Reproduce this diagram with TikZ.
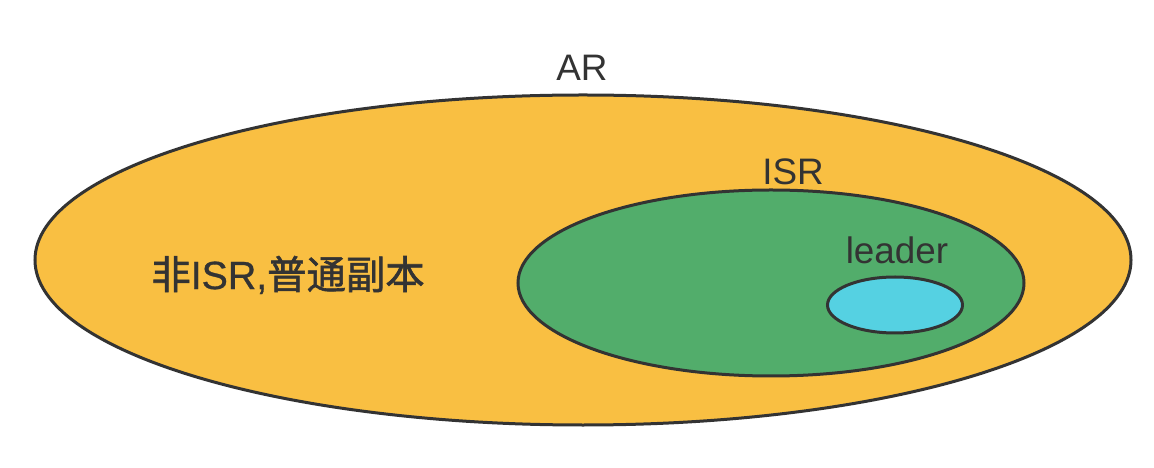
\documentclass[tikz,border=0pt]{standalone}
\usepackage{fontspec}
\setmainfont{Liberation Sans}
\newfontfamily\cjkb{Noto Sans CJK SC}[FakeBold=1.5]
\newfontfamily\latb{Liberation Sans}[FakeBold=0.8]
\usetikzlibrary{shapes.geometric}
\definecolor{arfill}{HTML}{F9BF42}
\definecolor{isrfill}{HTML}{52AD6B}
\definecolor{ldfill}{HTML}{55D1E2}
\definecolor{ink}{HTML}{333333}
\tikzset{
  blob/.style={ellipse, draw=ink, line width=3bp, inner sep=0pt},
  lbl/.style={text=ink, inner sep=0pt, font=\fontsize{37}{40}\selectfont},
}
\begin{document}
\begin{tikzpicture}[x=1bp,y=-1bp]
\useasboundingbox[fill=white] (0,0) rectangle (1154,468);
\node[blob, fill=arfill, minimum width=1096bp, minimum height=330bp] (ar) at (583,260) {};
\node[blob, fill=isrfill, minimum width=506bp, minimum height=186bp] (isr) at (771,283) {};
\node[blob, fill=ldfill, minimum width=135bp, minimum height=56bp] (ld) at (895,305) {};
\node[lbl] (arl) at (582,68) {AR};
\node[lbl] (isrl) at (793,172) {ISR};
\node[lbl] (ldl) at (897,250) {leader};
\node[lbl, font=\fontsize{39.5}{42}\selectfont] (nonisr) at (288,275) {{\cjkb 非}{\latb ISR,}{\cjkb 普通副本}};
\end{tikzpicture}
\end{document}
